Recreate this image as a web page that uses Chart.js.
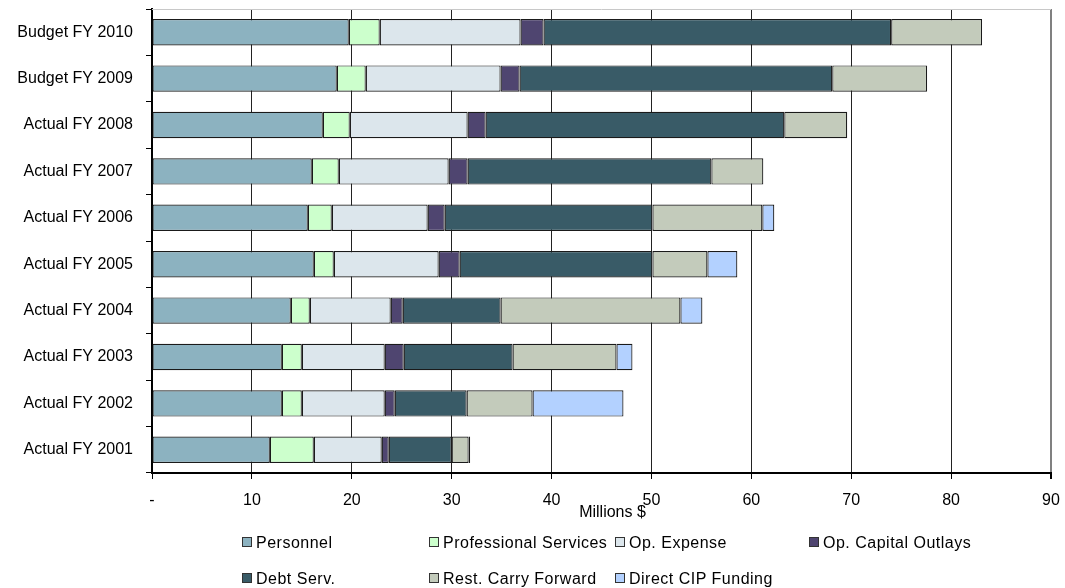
<!DOCTYPE html>
<html>
<head>
<meta charset="utf-8">
<script src="https://cdn.jsdelivr.net/npm/chart.js@4.4.1/dist/chart.umd.min.js"></script>
<style>
    body { margin: 0; background: #fff; font-family: "Liberation Sans", Arial, sans-serif; }
    #wrap { position: relative; width: 1065px; height: 588px; }
    #legend { position: absolute; left: 0; top: 0; width: 1065px; height: 588px; pointer-events: none; }
    .item { position: absolute; font-size: 16px; letter-spacing: 0.5px; color: #000; white-space: nowrap; line-height: 18px; }
    .box { display: inline-block; width: 8px; height: 8px; border: 1px solid #333; margin-right: 4px; vertical-align: 1px; }
</style>
</head>
<body>
<div id="wrap">
    <canvas id="budgetChart" width="1065" height="588"></canvas>
    <div id="legend"></div>
</div>
<script>
// categories, top to bottom
const years = ["Budget FY 2010", "Budget FY 2009", "Actual FY 2008", "Actual FY 2007", "Actual FY 2006",
    "Actual FY 2005", "Actual FY 2004", "Actual FY 2003", "Actual FY 2002", "Actual FY 2001"];

// series values, millions $
const personnel     = [19.7, 18.5, 17.1, 16.0, 15.6, 16.2, 13.9, 13.0, 13.0, 11.8];
const professional  = [3.1, 2.9, 2.7, 2.7, 2.4, 2.0, 1.9, 2.0, 2.0, 4.4];
const opExpense     = [14.1, 13.5, 11.8, 11.0, 9.6, 10.5, 8.1, 8.3, 8.3, 6.8];
const opCapital     = [2.3, 1.9, 1.8, 1.9, 1.7, 2.1, 1.2, 1.9, 1.0, 0.7];
const debtServ      = [34.8, 31.3, 29.9, 24.4, 20.8, 19.3, 9.8, 10.9, 7.2, 6.3];
const restCarry     = [9.1, 9.5, 6.3, 5.2, 11.0, 5.5, 18.0, 10.4, 6.6, 1.7];
const directCIP     = [0, 0, 0, 0, 1.2, 3.0, 2.2, 1.6, 9.1, 0.15];

// x axis ticks
const xTicks = [0, 10, 20, 30, 40, 50, 60, 70, 80, 90];

const seriesNames = ["Personnel", "Professional Services", "Op. Expense", "Op. Capital Outlays",
    "Debt Serv.", "Rest. Carry Forward", "Direct CIP Funding"];
const seriesData = [personnel, professional, opExpense, opCapital, debtServ, restCarry, directCIP];
const seriesColors = ["#8cb2c0", "#ccffcc", "#dce6ec", "#4f4570", "#395b67", "#c3cbbb", "#b3d1ff"];

const FONT = "'Liberation Sans', Arial, sans-serif";

// draws the top frame line and the axis title
const framePlugin = {
    id: 'frame',
    afterDraw(chart) {
        const ctx = chart.ctx;
        const a = chart.chartArea;
        ctx.save();
        ctx.strokeStyle = '#c8c8c8';
        ctx.lineWidth = 1;
        ctx.beginPath();
        ctx.moveTo(a.left, a.top + 0.5);
        ctx.lineTo(a.right, a.top + 0.5);
        ctx.stroke();
        ctx.fillStyle = '#000';
        ctx.font = '16px ' + FONT;
        ctx.textAlign = 'center';
        ctx.textBaseline = 'middle';
        ctx.fillText('Millions $', (a.left + a.right) / 2 + 11, a.bottom + 40);
        ctx.restore();
    }
};

let ctx = document.getElementById('budgetChart').getContext('2d');

new Chart(ctx, {
    type: 'bar',
    data: {
        labels: years,
        datasets: seriesNames.map((name, i) => ({
            label: name,
            data: seriesData[i],
            backgroundColor: seriesColors[i],
            borderColor: '#1a1a1a',
            borderWidth: 1.2,
            borderSkipped: false,
            barPercentage: 0.57,
            categoryPercentage: 1
        }))
    },
    options: {
        indexAxis: 'y',
        responsive: false,
        animation: false,
        layout: { padding: { top: 9, right: 14, left: 0, bottom: 0 } },
        scales: {
            x: {
                stacked: true,
                min: 0,
                max: 90,
                afterFit: scale => {
                    scale.height = 115;
                    scale.paddingLeft = 0;
                    scale.paddingRight = 0;
                },
                afterBuildTicks: scale => { scale.ticks = xTicks.map(v => ({ value: v })); },
                ticks: {
                    color: '#000',
                    font: { size: 16, family: FONT },
                    padding: 12,
                    maxRotation: 0,
                    callback: v => v === 0 ? '-' : v
                },
                grid: {
                    color: ctx => ctx.tick && ctx.tick.value === 90 ? '#808080' : '#222',
                    lineWidth: ctx => ctx.tick && ctx.tick.value === 90 ? 2 : 1,
                    tickColor: '#000',
                    tickLength: 6
                },
                border: { display: true, color: '#000', width: 2 }
            },
            y: {
                stacked: true,
                afterFit: scale => {
                    scale.width = 152;
                    scale.paddingTop = 0;
                    scale.paddingBottom = 0;
                },
                ticks: {
                    color: '#000',
                    font: { size: 16, family: FONT },
                    padding: 13
                },
                grid: {
                    drawOnChartArea: false,
                    tickColor: '#000',
                    tickLength: 6,
                    lineWidth: 1
                },
                border: { display: true, color: '#000', width: 2 }
            }
        },
        plugins: {
            legend: { display: false },
            tooltip: { enabled: false }
        }
    },
    plugins: [framePlugin]
});

// legend in two rows, four columns
const legendCols = [242, 429, 615, 809];
const legendRows = [534, 570];
const legendDiv = document.getElementById('legend');
seriesNames.forEach((name, i) => {
    let item = document.createElement('div');
    item.className = 'item';
    item.style.left = legendCols[i % 4] + 'px';
    item.style.top = legendRows[Math.floor(i / 4)] + 'px';
    item.innerHTML = '<span class="box" style="background:' + seriesColors[i] + '"></span>' + name;
    legendDiv.appendChild(item);
});
</script>
</body>
</html>
